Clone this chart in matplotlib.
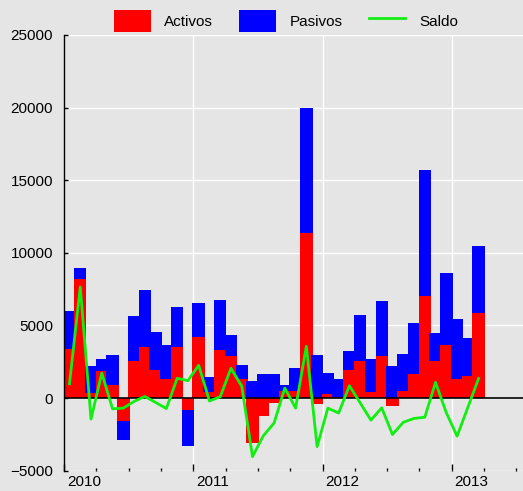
#!/usr/bin/env python3
# -*- coding: utf-8 -*-
"""
Activos, Pasivos y Saldo mensual (ene 2010 - mar 2013)
Barras apiladas (rojo/azul) con la linea de saldo en verde
"""

import matplotlib
matplotlib.use('Agg')
import matplotlib.pyplot as plt
import matplotlib.transforms as mtransforms
import pandas as pd

# Datos (meses, activos, pasivos, saldo)
meses = pd.period_range('2010-01', periods=39, freq='M')

activos = [3380, 8230, 345, 1880, 920, -1610, 2530, 3510, 1950, 1320, 3540, -800,
           4240, 420, 3300, 2930, 1310, -3100, -1200, -350, 510, 500, 11400, -410,
           300, 70, 1950, 2570, 410, 2870, -530, 460, 1650, 7010, 2530, 3680,
           1310, 1540, 5860]

pasivos = [2590, 740, 1835, 830, 2040, -1270, 3150, 3960, 2620, 2330, 2720, -2470,
           2310, 1030, 3480, 1410, 950, 1150, 1680, 1680, 390, 1570, 8600, 2990,
           1420, 1260, 1310, 3170, 2280, 3800, 2230, 2600, 3520, 8670, 1950, 4960,
           4160, 2600, 4640]

saldo = [985, 7650, -1450, 1720, -740, -690, -230, 110, -300, -720, 1360, 1200,
         2260, -200, 90, 2050, 820, -4030, -2600, -1720, 690, -690, 3560, -3340,
         -690, -1030, 850, -330, -1520, -670, -2510, -1670, -1400, -1320, 1080, -1010,
         -2620, -640, 1350]

anios = [2010, 2011, 2012, 2013]

# Colores y fondo
ROJO = '#ff0000'
AZUL = '#0000ff'
VERDE = '#11ee11'
FONDO = '#e5e5e5'

plt.rcParams['font.family'] = ['Liberation Sans', 'DejaVu Sans']
plt.rcParams['font.size'] = 11

# Posicion de cada mes en anios decimales (mitad del mes)
x = [p.year + (p.month - 0.5) / 12.0 for p in meses]
ancho = 1.15 / 12.0

fig = plt.figure(figsize=(5.23, 4.91), dpi=100, facecolor=FONDO)
ax = fig.add_axes([64.1 / 523, 20.3 / 491, 1 - 64.1 / 523, 435.7 / 491])
ax.set_facecolor(FONDO)

# Barras mes a mes, para que cada mes tape un poco al anterior
h_act = h_pas = None
for i, (xi, a, p) in enumerate(zip(x, activos, pasivos)):
    base = a if (a >= 0) == (p >= 0) else 0
    b1 = ax.bar(xi, a, width=ancho, color=ROJO, linewidth=0, zorder=2 + i * 0.01)
    b2 = ax.bar(xi, p, width=ancho, bottom=base, color=AZUL, linewidth=0,
                zorder=2.005 + i * 0.01)
    if i == 0:
        h_act, h_pas = b1, b2

ax.axhline(0, color='black', linewidth=1.2, zorder=3)
h_sal, = ax.plot(x, saldo, color=VERDE, linewidth=2.0, zorder=4)

# Ejes
ax.set_yticks(range(-5000, 25001, 5000))
ax.set_xticks(anios)
ax.set_xticklabels([str(a) for a in anios])
ax.set_xticks([a + q / 4.0 for a in anios for q in range(1, 4)], minor=True)
ax.set_xlim(2010.0, 2010.0 + (523 - 64.1) / 129.2)
ax.set_ylim(-5000, 25000)

ax.grid(True, which='major', color='white', linewidth=1.0, zorder=0)
ax.set_axisbelow(True)

for lado in ['top', 'right', 'bottom']:
    ax.spines[lado].set_visible(False)
ax.spines['left'].set_color('black')
ax.spines['left'].set_linewidth(1.0)

ax.tick_params(axis='y', direction='in', length=3, width=1, pad=8, colors='black',
               labelsize=11)
ax.tick_params(axis='x', which='major', direction='in', length=5, width=1, pad=3,
               colors='black', labelsize=11)
ax.tick_params(axis='x', which='minor', direction='in', length=2.4, width=1,
               colors='black')

# Etiquetas de anio alineadas a la izquierda del tick
desplaza = mtransforms.ScaledTranslation(3 / 100.0, 0, fig.dpi_scale_trans)
for etiqueta in ax.get_xticklabels():
    etiqueta.set_horizontalalignment('left')
    etiqueta.set_transform(etiqueta.get_transform() + desplaza)

# Leyenda horizontal encima del area del grafico
ax.legend([h_act, h_pas, h_sal], ['Activos', 'Pasivos', 'Saldo'],
          loc='center', bbox_to_anchor=(286 / 523, 1 - 21 / 491),
          bbox_transform=fig.transFigure, ncol=3, frameon=False, fontsize=11,
          handlelength=2.4, handleheight=1.9, handletextpad=0.9, columnspacing=1.7)

fig.savefig('out.png', dpi=100, facecolor=fig.get_facecolor())
plt.close(fig)
